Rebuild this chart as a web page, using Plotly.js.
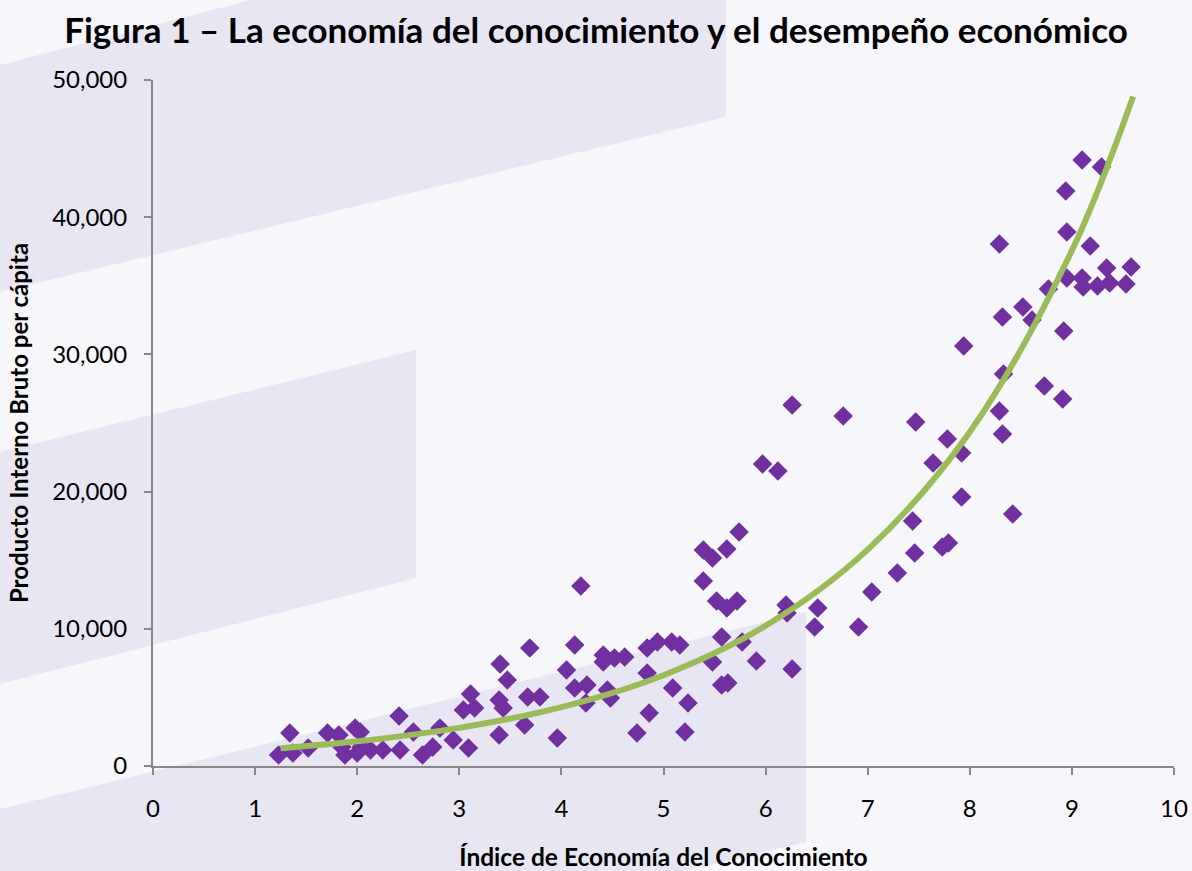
<!DOCTYPE html>
<html>
<head>
<meta charset="utf-8">
<script src="https://cdn.plot.ly/plotly-3.0.1.min.js"></script>
<style>
  html, body { margin: 0; padding: 0; background: #f7f6fb; }
  #chart { width: 1192px; height: 871px; }
</style>
</head>
<body>
<div id="chart"></div>
<script>
// ---- Data ----
const indiceEC = [
  1.23, 1.34, 1.37, 1.52, 1.71, 1.82, 1.88, 1.98, 2.03, 2.00,
  2.13, 2.25, 2.42, 2.41, 2.55, 2.64, 2.81, 2.74, 2.94, 3.04,
  3.11, 3.15, 3.09, 1.85, 2.04, 3.40, 3.39, 3.39, 3.47, 3.43,
  3.67, 3.79, 3.64, 3.69, 3.96, 4.13, 4.05, 4.13, 4.25, 4.24,
  4.19, 4.41, 4.41, 4.52, 4.62, 4.45, 4.48, 4.84, 4.94, 5.08,
  5.16, 4.84, 5.09, 5.24, 4.86, 4.74, 5.21,
  6.26, 6.76, 5.97, 6.12, 5.74, 5.39, 5.48, 5.62, 5.39, 5.52,
  5.62, 5.72, 6.20, 6.21, 6.51, 6.48, 7.04, 6.91, 5.57, 5.77,
  5.48, 5.91, 6.26, 5.57, 5.63,
  7.44, 7.92, 7.46, 7.73, 7.79, 7.29, 8.29, 8.95, 9.18, 8.95,
  9.10, 9.11, 9.25, 9.34, 9.37, 9.53, 9.58, 8.77, 8.52, 8.61,
  8.32, 8.92, 7.94, 8.33, 8.73, 8.91, 8.29, 8.32, 7.47, 7.78,
  7.92, 7.64, 8.42, 9.10, 9.29, 8.94
];
const pibPerCapita = [
  800, 2400, 950, 1310, 2400, 2260, 800, 2770, 2480, 950,
  1170, 1170, 1170, 3640, 2480, 800, 2770, 1390, 1900, 4080,
  5250, 4230, 1310, 1390, 1390, 7430, 4810, 2260, 6270, 4230,
  5030, 5030, 2990, 8600, 2040, 8820, 7000, 5690, 5900, 4590,
  13120, 8090, 7580, 7870, 7950, 5540, 4960, 8600, 9040, 9040,
  8820, 6780, 5690, 4590, 3860, 2410, 2480,
  26310, 25510, 22010, 21500, 17060, 15740, 15160, 15820, 13480, 12030,
  11520, 12030, 11740, 11150, 11520, 10130, 12680, 10130, 9400, 9040,
  7580, 7650, 7070, 5900, 6050,
  17860, 19610, 15530, 15960, 16250, 14070, 38050, 38920, 37900, 35570,
  35570, 34910, 34990, 36300, 35210, 35130, 36370, 34770, 33460, 32510,
  32730, 31710, 30610, 28570, 27700, 26750, 25880, 24200, 25070, 23840,
  22810, 22090, 18370, 44170, 43660, 41910
];
// Exponential trend line
const tendenciaX = [1.25, 2, 3, 4, 5, 6, 7, 8, 9, 9.6];
const tendenciaY = [1300, 1800, 2780, 4290, 6620, 10220, 15770, 24350, 37570, 48800];

const xTicks = [0, 1, 2, 3, 4, 5, 6, 7, 8, 9, 10];
const yTicks = [0, 10000, 20000, 30000, 40000, 50000];
const yTickText = ["0", "10,000", "20,000", "30,000", "40,000", "50,000"];

const titulo = "Figura 1 – La economía del conocimiento y el desempeño económico";
const tituloX = "Índice de Economía del Conocimiento";
const tituloY = "Producto Interno Bruto per cápita";

// ---- Layout helpers ----
const W = 1192, H = 871;
const M = { l: 153, r: 18, t: 80, b: 105 };
const PW = W - M.l - M.r, PH = H - M.t - M.b;
function P(px, py) { return [((px - M.l) / PW).toFixed(5), ((H - M.b - py) / PH).toFixed(5)]; }
function poly(pts) {
  return pts.map((p, i) => { const q = P(p[0], p[1]); return (i ? 'L' : 'M') + q[0] + ',' + q[1]; }).join(' ') + ' Z';
}
const bandColor = '#e8e6f3';
const bands = [
  [[0, 65], [270, -5], [726, -5], [726, 117], [0, 292]],
  [[0, 452], [416, 350], [416, 578], [0, 684]],
  [[0, 809], [806, 612], [806, 842], [0, 1035]]
];
const shapes = bands.map(b => ({
  type: 'path', xref: 'paper', yref: 'paper', layer: 'below',
  path: poly(b), fillcolor: bandColor, line: { width: 0 }
}));

const FONT = 'Lato, "Open Sans", sans-serif';

const traces = [
  {
    type: 'scatter', mode: 'markers', x: indiceEC, y: pibPerCapita,
    marker: { symbol: 'diamond', size: 15, color: '#7030a0', line: { width: 0 } },
    hoverinfo: 'skip', showlegend: false
  },
  {
    type: 'scatter', mode: 'lines', x: tendenciaX, y: tendenciaY,
    line: { color: '#9bbb59', width: 6, shape: 'spline' },
    hoverinfo: 'skip', showlegend: false
  }
];

const layout = {
  width: W, height: H,
  margin: M,
  paper_bgcolor: '#f7f6fb',
  plot_bgcolor: 'rgba(0,0,0,0)',
  font: { family: FONT, color: '#000', size: 24 },
  title: {
    text: '<b>' + titulo + '</b>',
    font: { family: FONT, size: 35, color: '#000' },
    x: 0.5, xref: 'container', xanchor: 'center',
    y: 1 - 31 / H, yref: 'container', yanchor: 'middle'
  },
  xaxis: {
    range: [0, 10], tickvals: xTicks, ticktext: xTicks.map(String),
    showgrid: false, zeroline: false, showline: true, linecolor: '#888888', linewidth: 2,
    ticks: 'outside', ticklen: 7, tickwidth: 2, tickcolor: '#888888',
    tickfont: { family: FONT, size: 24, color: '#000' },
    ticklabelstandoff: 13,
    title: { text: '<b>' + tituloX + '</b>', font: { family: FONT, size: 24.5, color: '#000' }, standoff: 29 },
    fixedrange: true
  },
  yaxis: {
    range: [0, 50000], tickvals: yTicks, ticktext: yTickText,
    showgrid: false, zeroline: false, showline: true, linecolor: '#888888', linewidth: 2,
    ticks: 'outside', ticklen: 7, tickwidth: 2, tickcolor: '#888888',
    tickfont: { family: FONT, size: 24, color: '#000' },
    ticklabelstandoff: 12,
    title: { text: '<b>' + tituloY + '</b>', font: { family: FONT, size: 24, color: '#000' }, standoff: 17 },
    fixedrange: true
  },
  shapes: shapes,
  hovermode: false,
  showlegend: false
};

Plotly.newPlot('chart', traces, layout, { displayModeBar: false, staticPlot: true });
</script>
</body>
</html>
